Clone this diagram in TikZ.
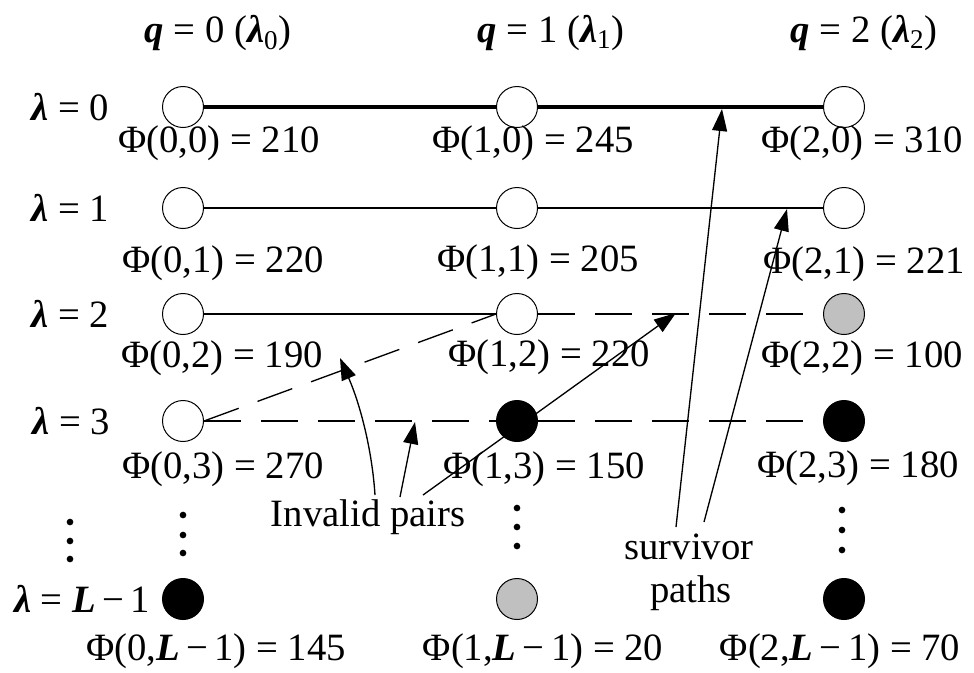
\documentclass[tikz,border=0pt]{standalone}
\usepackage{fontspec}
\setmainfont{Liberation Serif}
\usepackage{tikz}
\usetikzlibrary{arrows.meta}
\newcommand{\bi}[1]{\textbf{\textit{#1}}}

\begin{document}
\begin{tikzpicture}[x=0.75pt,y=0.75pt,yscale=-1,xscale=1,
    font=\fontsize{29}{34}\selectfont,
    state/.style={circle,draw,line width=0.75pt,minimum size=30.75pt,inner sep=0pt},
    open/.style={state,fill=white},
    full/.style={state,fill=black},
    half/.style={state,fill={rgb,255:red,192;green,192;blue,192}},
    txt/.style={inner sep=0.75pt},
    best/.style={line width=3.5pt},
    trellis/.style={line width=1pt},
    invalid/.style={line width=1pt,dash pattern={on 27.75pt off 15pt}},
    pointer/.style={line width=1pt,-{Triangle[length=16.5pt,width=11.25pt]}},
    dotz/.style={circle,fill=black,inner sep=0pt,minimum size=5pt}]
            \useasboundingbox (0,0) rectangle (974,672);

            % Text Node
            \node [txt] (head0) at (218,33) {\bi{q} = 0 (\bi{λ}\textsubscript{0})};
            % Text Node
            \node [txt] (head1) at (551,33) {\bi{q} = 1 (\bi{λ}\textsubscript{1})};
            % Text Node
            \node [txt] (head2) at (864,33) {\bi{q} = 2 (\bi{λ}\textsubscript{2})};

            % Text Node
            \node [txt] (lam0) at (70,107) {\bi{λ} = 0};
            % Text Node
            \node [txt] (lam1) at (70,208) {\bi{λ} = 1};
            % Text Node
            \node [txt] (lam2) at (70,314) {\bi{λ} = 2};
            % Text Node
            \node [txt] (lam3) at (71,421) {\bi{λ} = 3};
            % Text Node
            \node [txt] (lamL) at (82,599) {\bi{λ} = \bi{L}\thinspace−\thinspace1};

            %Shape: Circle [q = 0]
            \node [open] (n00) at (183,107) {};
            \node [open] (n01) at (183,208) {};
            \node [open] (n02) at (183,314) {};
            \node [open] (n03) at (183,421) {};
            \node [full] (n0L) at (183,599) {};
            %Shape: Circle [q = 1]
            \node [open] (n10) at (517,107) {};
            \node [open] (n11) at (517,208) {};
            \node [open] (n12) at (517,314) {};
            \node [full] (n13) at (517,421) {};
            \node [half] (n1L) at (517,599) {};
            %Shape: Circle [q = 2]
            \node [open] (n20) at (844,107) {};
            \node [open] (n21) at (844,208) {};
            \node [half] (n22) at (844,314) {};
            \node [full] (n23) at (844,421) {};
            \node [full] (n2L) at (844,599) {};

            %Straight Lines [survivors]
            \draw [best] (n00) -- (n10) -- (n20) ;
            \draw [trellis] (n01) -- (n11) -- (n21) ;
            \draw [trellis] (n02) -- (n12) ;
            %Straight Lines [invalid]
            \draw [invalid] (n12) -- (n22) ;
            \draw [invalid] (n03) -- (n13) -- (n23) ;
            \draw [invalid] (n03.east) -- (n12.west) ;

            % Text Node
            \node [txt] (phi00) at (219,143) {Φ(0,0) = 210};
            \node [txt] (phi10) at (533,143) {Φ(1,0) = 245};
            \node [txt] (phi20) at (862,143) {Φ(2,0) = 310};
            % Text Node
            \node [txt] (phi01) at (223,263) {Φ(0,1) = 220};
            \node [txt] (phi11) at (538,262) {Φ(1,1) = 205};
            \node [txt] (phi21) at (864,264) {Φ(2,1) = 221};
            % Text Node
            \node [txt] (phi02) at (222,358) {Φ(0,2) = 190};
            \node [txt] (phi12) at (549,357) {Φ(1,2) = 220};
            \node [txt] (phi22) at (862,358) {Φ(2,2) = 100};
            % Text Node
            \node [txt] (phi03) at (223,469) {Φ(0,3) = 270};
            \node [txt] (phi13) at (544,469) {Φ(1,3) = 150};
            \node [txt] (phi23) at (858,468) {Φ(2,3) = 180};
            % Text Node
            \node [txt] (phi0L) at (216,651) {Φ(0,\bi{L}\thinspace−\thinspace1) = 145};
            \node [txt] (phi1L) at (543,651) {Φ(1,\bi{L}\thinspace−\thinspace1) = 20};
            \node [txt] (phi2L) at (840,651) {Φ(2,\bi{L}\thinspace−\thinspace1) = 70};

            % Dots
            \foreach \px/\py [count=\k] in {70/522,70/541,70/559,183/515,183/535,183/553,517/508,517/527,517/546,842/510,842/530,842/550}
              \node [dotz] (dot\k) at (\px,\py) {};

            % Text Node
            \node [txt] (inv) at (368,517) {Invalid pairs};
            % Text Node
            \node [txt] (surv) at (689,547) {survivor};
            % Text Node
            \node [txt] (paths) at (691,593) {paths};

            %Arrows [survivor paths]
            \coordinate (st0) at (676,527);
            \coordinate (sh0) at (722,109);
            \coordinate (st1) at (704,522);
            \coordinate (sh1) at (787,209);
            \draw [pointer] (st0) -- (sh0) ;
            \draw [pointer] (st1) -- (sh1) ;
            %Arrows [invalid pairs]
            \coordinate (it0) at (423,495);
            \coordinate (ih0) at (676,313);
            \coordinate (it1) at (400,497);
            \coordinate (ih1) at (415,422);
            \coordinate (it2) at (375,495);
            \coordinate (ih2) at (340,358);
            \draw [pointer] (it0) -- (ih0) ;
            \draw [pointer] (it1) -- (ih1) ;
            \draw [pointer] (it2) .. controls (372,449) and (360,404) .. (ih2) ;

\end{tikzpicture}
\end{document}
